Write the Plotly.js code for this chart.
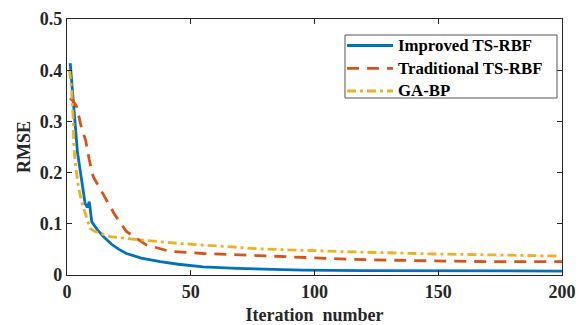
<!DOCTYPE html>
<html><head><meta charset="utf-8">
<script src="https://cdn.plot.ly/plotly-3.0.1.min.js"></script>
<style>html,body{margin:0;padding:0;background:#fff}#c{width:583px;height:325px}</style>
</head><body><div id="c"></div>
<script>
var seriesNames = ["Improved TS-RBF", "Traditional TS-RBF", "GA-BP"];
var improvedX = [1.3, 2.5, 3.5, 4.2, 5.5, 7.3, 8.2, 9, 10, 12, 14.7, 18, 21, 24, 30, 37.6, 45, 55, 68.5, 80, 95, 120, 150, 175, 200];
var improvedY = [0.414, 0.35, 0.283, 0.241, 0.2, 0.14, 0.132, 0.143, 0.104, 0.09, 0.075, 0.06, 0.05, 0.042, 0.033, 0.026, 0.021, 0.016, 0.013, 0.011, 0.0095, 0.0085, 0.008, 0.0078, 0.0077];
var traditionalX = [1.2, 2.5, 3.9, 5.9, 7.5, 9, 10.6, 14.7, 19.4, 24, 32, 41.6, 55, 76.6, 95, 113, 130, 149, 170, 193, 200];
var traditionalY = [0.345, 0.34, 0.329, 0.286, 0.264, 0.225, 0.192, 0.156, 0.117, 0.085, 0.059, 0.046, 0.042, 0.038, 0.034, 0.031, 0.029, 0.027, 0.026, 0.026, 0.026];
var gabpX = [1, 1.9, 2.5, 2.8, 3.3, 4.5, 5.8, 7.3, 9.3, 11.3, 17.4, 30.8, 44.3, 60, 78, 109, 130, 149, 175, 199];
var gabpY = [0.40, 0.361, 0.303, 0.25, 0.22, 0.176, 0.145, 0.12, 0.091, 0.085, 0.075, 0.068, 0.062, 0.057, 0.051, 0.046, 0.043, 0.041, 0.039, 0.037];
var xTicks = [0, 50, 100, 150, 200];
var yTicks = [0, 0.1, 0.2, 0.3, 0.4, 0.5];
var yTickText = ["0", "0.1", "0.2", "0.3", "0.4", "0.5"];

var F = "Liberation Serif";
var colors = ["#0072BD", "#D95319", "#EDB120"];
var dashes = ["solid", "12px,8px", "9px,4px,3px,4px"];
var traces = [
  {x: improvedX, y: improvedY, name: seriesNames[0], mode: "lines", line: {color: colors[0], width: 2.8, dash: dashes[0]}},
  {x: traditionalX, y: traditionalY, name: seriesNames[1], mode: "lines", line: {color: colors[1], width: 2.8, dash: dashes[1]}},
  {x: gabpX, y: gabpY, name: seriesNames[2], mode: "lines", line: {color: colors[2], width: 2.8, dash: dashes[2]}}
];
// custom legend (paper coordinates)
var legBox = {x0: 0.5616, x1: 0.9899, y0: 0.6914, y1: 0.9375};
var legRowsY = [0.8965, 0.8074, 0.7188];
var legLineX = [0.5657, 0.6586];
var legTextX = 0.6647;
var shapes = [{type: "rect", xref: "paper", yref: "paper", x0: legBox.x0, x1: legBox.x1, y0: legBox.y0, y1: legBox.y1,
  line: {color: "#555", width: 1}, fillcolor: "#fff", layer: "above"}];
var annotations = [];
seriesNames.forEach(function (n, i) {
  shapes.push({type: "line", xref: "paper", yref: "paper", x0: legLineX[0], x1: legLineX[1], y0: legRowsY[i], y1: legRowsY[i],
    line: {color: colors[i], width: 2.8, dash: dashes[i]}, layer: "above"});
  annotations.push({xref: "paper", yref: "paper", x: legTextX, y: legRowsY[i], xanchor: "left", yanchor: "middle",
    text: n, showarrow: false, font: {family: F, size: 16.8, color: "#000", weight: "bold"}});
});
var ax = {showgrid: false, zeroline: false, showline: true, linecolor: "#262626", linewidth: 1.2, mirror: "ticks",
  ticks: "inside", ticklen: 5, tickcolor: "#262626", tickfont: {family: F, size: 18, color: "#262626", weight: "bold"}};
var layout = {
  width: 583, height: 325, margin: {l: 67, r: 21, t: 19, b: 50},
  paper_bgcolor: "#fff", plot_bgcolor: "#fff", font: {family: F},
  xaxis: Object.assign({}, ax, {range: [0, 200], tickvals: xTicks, ticktext: xTicks.map(String), automargin: false,
    title: {text: "Iteration  number", font: {family: F, size: 18, color: "#262626", weight: "bold"}, standoff: 11}}),
  yaxis: Object.assign({}, ax, {range: [0, 0.5], tickvals: yTicks, ticktext: yTickText,
    title: {text: "RMSE", font: {family: F, size: 18, color: "#262626", weight: "bold"}, standoff: 4}}),
  showlegend: false,
  shapes: shapes,
  annotations: annotations
};
Plotly.newPlot("c", traces, layout, {staticPlot: true, displayModeBar: false});
</script></body></html>
